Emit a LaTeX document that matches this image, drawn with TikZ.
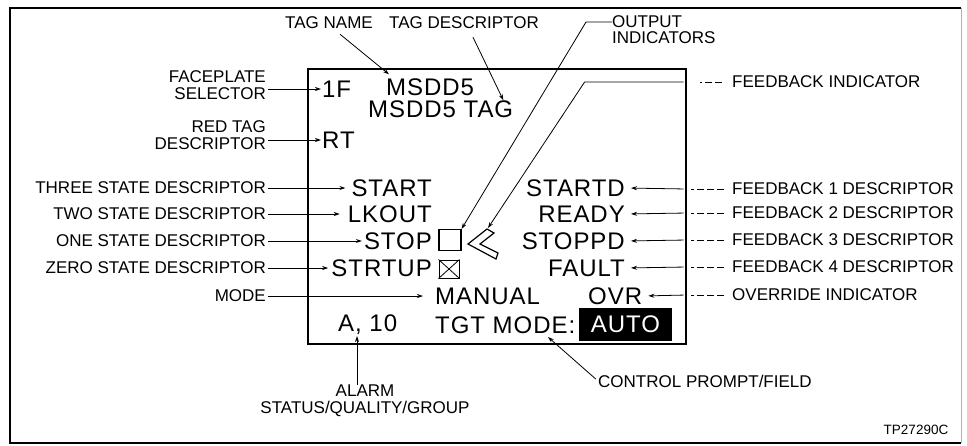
\documentclass[tikz,border=0pt]{standalone}
\usepackage{fontspec}
\setmainfont{Liberation Sans}
\newfontfamily\bigfam[LetterSpace=4]{Liberation Sans}
\usetikzlibrary{arrows.meta,calc}
\newcommand{\labfnt}{\fontsize{17}{17}\selectfont}
\newcommand{\bigfnt}{\bigfam\fontsize{24}{26}\selectfont}
\newcommand{\idfnt}{\fontsize{13.5}{15}\selectfont}
\begin{document}
\begin{tikzpicture}[x=1pt,y=-1pt,
  lab/.style={font=\labfnt, inner sep=0pt},
  big/.style={font=\bigfnt, inner sep=0pt},
  lead/.style={line width=0.8pt},
  arr/.style={lead, -{Stealth[length=6pt,width=4pt]}},
  dsh/.style={lead, dash pattern=on 7pt off 3pt}]
\useasboundingbox (0,0) rectangle (967,445);
% outer frame
\draw[line width=1.6pt] (961,8) -- (10,8) -- (10,443) -- (961,443);
\draw[line width=0.8pt, black!30] (961,8) -- (961,443);
% screen
\node[draw, line width=1.6pt, minimum width=378pt, minimum height=275pt, inner sep=0pt, anchor=north west] (scr) at (307,68) {};
% screen texts
\node[big, anchor=west] (onef) at (322,89) {1F};
\node[big, anchor=west] (tagn) at (386,87) {MSDD5};
\node[big, anchor=west] (tagd) at (368,109) {MSDD5 TAG};
\node[big, anchor=west] (rt) at (322,140) {RT};
\node[big, anchor=east] (start) at (432,188) {START};
\node[big, anchor=east] (lkout) at (432,214) {LKOUT};
\node[big, anchor=east] (stop) at (432,241) {STOP};
\node[big, anchor=east] (strtup) at (432,268) {STRTUP};
\node[big, anchor=east] (startd) at (625,188) {STARTD};
\node[big, anchor=east] (ready) at (625,214) {READY};
\node[big, anchor=east] (stoppd) at (625,241) {STOPPD};
\node[big, anchor=east] (fault) at (625,268) {FAULT};
\node[big, anchor=west] (manual) at (435,296) {MANUAL};
\node[big, anchor=west] (ovr) at (588,296) {OVR};
\node[big, anchor=west] (alv) at (338,325) {A, 10};
\node[big, anchor=west] (tgt) at (435,325) {TGT MODE:};
\node[big, fill=black, text=white, minimum width=93pt, minimum height=33pt] (auto) at (625.5,324.5) {AUTO};
% indicators
\node[draw, line width=1.2pt, minimum width=22pt, minimum height=21pt, inner sep=0pt] (outbox) at (450,240) {};
\node[draw, line width=1pt, minimum width=20pt, minimum height=18pt, inner sep=0pt] (xbox) at (449,269) {};
\draw[line width=0.8pt] (xbox.north west) -- (xbox.south east) (xbox.north east) -- (xbox.south west);
\draw[line width=1.2pt, line join=miter] (487,229) -- (468,244) -- (496,259) -- (498,253) -- (480,244) -- (494,233) -- cycle;
\coordinate (chev) at (488,228);
% top labels
\node[lab] (tagname) at (329,23) {TAG NAME};
\node[lab] (tagdesc) at (464,23) {TAG DESCRIPTOR};
\node[lab, anchor=west] (out1) at (612,22) {OUTPUT};
\node[lab, anchor=west] (out2) at (612,38) {INDICATORS};
\node[lab, anchor=west] (fbi) at (732,82) {FEEDBACK INDICATOR};
\draw[arr] ($(tagname.south)+(11,5)$) -- ($(tagn.north west)+(3,-4)$);
\draw[arr] ($(tagdesc.south)+(9,8)$) -- ($(tagd.north east)+(-10,0)$);
\draw[arr] (out1.west) -- ++(-26,0) -- (outbox.north east);
\draw[dsh, shorten <=10pt, shorten >=13pt] (fbi.west) -- (fbi.west -| scr.east);
\draw[arr] ($(fbi.west -| scr.east)+(-3,0)$) -- ++(-99,0) -- (chev);
% left labels
\node[lab, anchor=east, align=right] (fps) at (266,85) {FACEPLATE\\SELECTOR};
\node[lab, anchor=east, align=right] (rtd) at (266,135) {RED TAG\\DESCRIPTOR};
\node[lab, anchor=east] (three) at (266,188) {THREE STATE DESCRIPTOR};
\node[lab, anchor=east] (two) at (266,214) {TWO STATE DESCRIPTOR};
\node[lab, anchor=east] (one) at (266,241) {ONE STATE DESCRIPTOR};
\node[lab, anchor=east] (zero) at (266,268) {ZERO STATE DESCRIPTOR};
\node[lab, anchor=east] (mode) at (266,296) {MODE};
\draw[arr, shorten <=2pt, shorten >=1pt] (fps.east |- onef.west) -- (onef.west);
\draw[arr, shorten <=2pt, shorten >=1pt] (rtd.east |- rt.west) -- (rt.west);
\draw[arr, shorten <=2pt, shorten >=6pt] (three.east) -- (start.west);
\draw[arr, shorten <=2pt, shorten >=8pt] (two.east) -- (lkout.west);
\draw[arr, shorten <=2pt, shorten >=2pt] (one.east) -- (stop.west);
\draw[arr, shorten <=2pt, shorten >=3pt] (zero.east) -- (strtup.west);
\draw[arr, shorten <=2pt, shorten >=12pt] (mode.east) -- (manual.west);
% right labels
\node[lab, anchor=west] (fb1) at (732,189) {FEEDBACK 1 DESCRIPTOR};
\node[lab, anchor=west] (fb2) at (732,213) {FEEDBACK 2 DESCRIPTOR};
\node[lab, anchor=west] (fb3) at (732,240) {FEEDBACK 3 DESCRIPTOR};
\node[lab, anchor=west] (fb4) at (732,267) {FEEDBACK 4 DESCRIPTOR};
\node[lab, anchor=west] (ovi) at (732,295) {OVERRIDE INDICATOR};
\foreach \l/\t in {fb1/startd, fb2/ready, fb3/stoppd, fb4/fault, ovi/ovr}{
  \draw[dsh, shorten <=8pt, shorten >=4pt] (\l.west) -- (\l.west -| scr.east);
  \draw[arr, shorten <=3pt, shorten >=6pt] (\l.west -| scr.east) -- (\t.east);
}
% bottom labels
\node[lab, align=center] (alarm) at (365,401) {ALARM\\STATUS/QUALITY/GROUP};
\coordinate (alt) at (357,336);
\draw[arr] (alarm.north -| alt) -- (alt);
\node[lab, anchor=west] (cpf) at (598,381) {CONTROL PROMPT/FIELD};
\coordinate (cpt) at (548,337);
\draw[arr, shorten <=3pt] (cpf.west) -- (cpt);
\node[font=\idfnt, inner sep=0pt] (fig) at (916,430) {TP27290C};
\end{tikzpicture}
\end{document}
